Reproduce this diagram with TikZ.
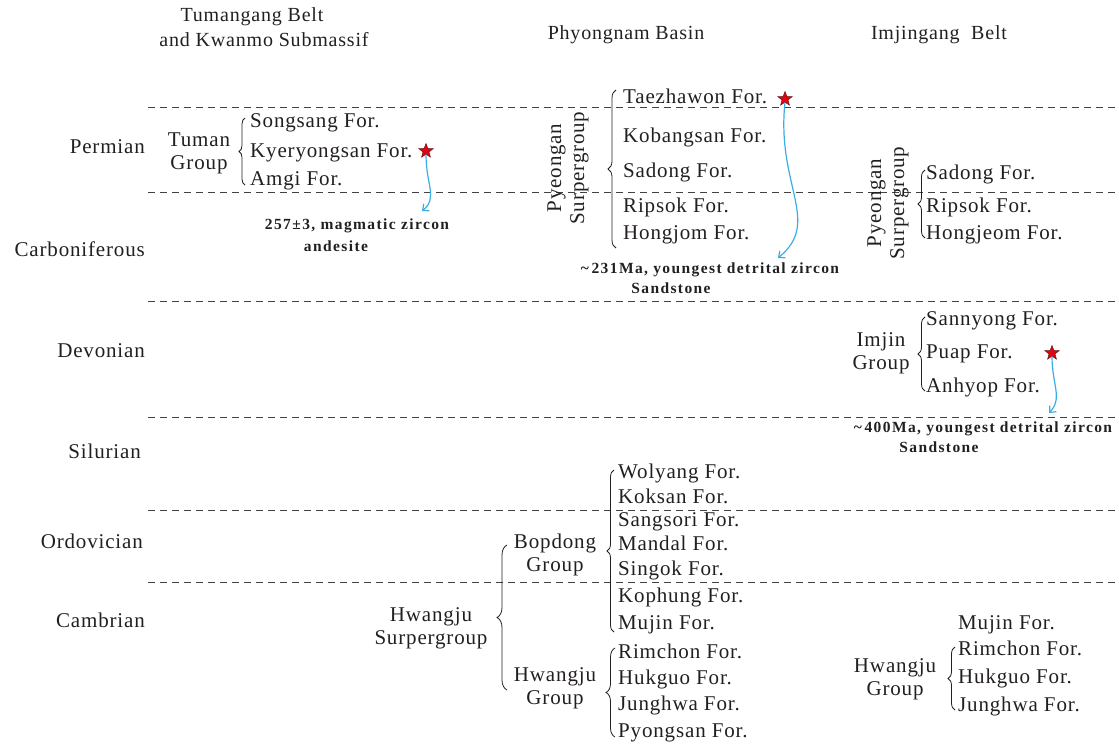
\documentclass[tikz,border=0pt]{standalone}
\usepackage{fontspec}
\setmainfont{Liberation Serif}[LetterSpace=4]
\usetikzlibrary{shapes.geometric,arrows.meta,decorations.pathreplacing}
\definecolor{ink}{HTML}{231F20}
\definecolor{zblue}{HTML}{3AAEE3}
\definecolor{starred}{HTML}{E50012}

\begin{document}
\begin{tikzpicture}[x=1pt,y=-1pt,
	every node/.style={inner sep=0,text=ink},
	hdr/.style={font=\fontsize{20}{23}\selectfont},
	era/.style={anchor=east,text height=14pt,text depth=4pt,font=\fontsize{21}{23}\selectfont},
	fm/.style={anchor=west,text height=14pt,text depth=4pt,font=\fontsize{21}{23}\selectfont},
	grp/.style={align=center,font=\fontsize{21}{23}\selectfont},
	note/.style={font=\fontsize{15.5}{19}\selectfont\bfseries\addfontfeature{LetterSpace=9}},
	sep/.style={draw=ink!85,line width=0.8pt,dash pattern=on 7pt off 5pt},
	brc/.style={draw=ink,line width=0.8pt,decorate,decoration={brace,amplitude=#1}},
	smp/.style={star,star points=5,star point ratio=2.4,minimum size=15pt,fill=starred,draw=ink!70!red,line width=0.5pt},
	age/.style={draw=zblue,line width=1.2pt,-{Straight Barb[length=5pt,width=9pt]}}]
\useasboundingbox (0,0) rectangle (1119,744);
\node[hdr] (h1a) at (252,17) {Tumangang Belt};
\node[hdr] (h1b) at (264,40) {and Kwanmo Submassif};
\node[hdr] (h2) at (626,35) {Phyongnam Basin};
\node[hdr] (h3) at (939,35) {Imjingang\ \ Belt};
\draw[sep] (148,107) -- (1119,107);
\draw[sep] (148,192) -- (1119,192);
\draw[sep] (148,301) -- (1119,301);
\draw[sep] (148,417) -- (1119,417);
\draw[sep] (148,510) -- (1119,510);
\draw[sep] (148,582) -- (1119,582);
\node[era] (perm) at (145,148) {Permian};
\node[era] (carb) at (145,251) {Carboniferous};
\node[era] (devo) at (145,352) {Devonian};
\node[era] (silu) at (141,453) {Silurian};
\node[era] (ordo) at (143,543) {Ordovician};
\node[era] (camb) at (145,622) {Cambrian};

\node[grp] (tuman) at (199,153) {Tuman\\Group};
\coordinate (tuB) at (245,185);
\coordinate (tuT) at (245,118);
\draw[brc=6pt] (tuB) -- (tuT);
\node[fm] (songsang) at (250,122) {Songsang For.};
\node[fm] (kyery) at (250,152) {Kyeryongsan For.};
\node[fm] (amgi) at (250,180) {Amgi For.};
\node[smp] (s1) at (426,151) {};
\coordinate (a1) at (422,211);
\draw[age] (s1.south) .. controls (426,185) and (438,198) .. (a1);
\node[note] (n1a) at (357,226) {257±3, magmatic zircon};
\node[note] (n1b) at (336,246) {andesite};

\node[grp,rotate=90] (pyeong1) at (568,168) {Pyeongan\\Surpergroup};
\coordinate (pyB) at (616,248);
\coordinate (pyT) at (616,90);
\draw[brc=8pt] (pyB) -- (pyT);
\node[fm] (taezh) at (623,98) {Taezhawon For.};
\node[fm] (kobang) at (623,137) {Kobangsan For.};
\node[fm] (sadong1) at (623,172) {Sadong For.};
\node[fm] (ripsok1) at (623,207) {Ripsok For.};
\node[fm] (hongjom) at (623,234) {Hongjom For.};
\node[smp] (s2) at (785,99) {};
\coordinate (a2) at (778,258);
\draw[age] (s2.south) .. controls (776,185) and (822,222) .. (a2);
\node[note] (n2a) at (710,270) {\textasciitilde\,231Ma, youngest detrital zircon};
\node[note] (n2b) at (671,288) {Sandstone};

\node[grp,rotate=90] (pyeong2) at (888,203) {Pyeongan\\Surpergroup};
\coordinate (pzB) at (925,238);
\coordinate (pzT) at (925,170);
\draw[brc=7pt] (pzB) -- (pzT);
\node[fm] (sadong2) at (926,174) {Sadong For.};
\node[fm] (ripsok2) at (926,207) {Ripsok For.};
\node[fm] (hongjeom) at (926,234) {Hongjeom For.};

\node[grp] (imjin) at (881,353) {Imjin\\Group};
\coordinate (imB) at (925,391);
\coordinate (imT) at (925,317);
\draw[brc=7pt] (imB) -- (imT);
\node[fm] (sannyong) at (926,320) {Sannyong For.};
\node[fm] (puap) at (926,353) {Puap For.};
\node[fm] (anhyop) at (926,387) {Anhyop For.};
\node[smp] (s3) at (1052,353) {};
\coordinate (a3) at (1049,413);
\draw[age] (s3.south) .. controls (1052,385) and (1063,398) .. (a3);
\node[note] (n3a) at (983,429) {\textasciitilde\,400Ma, youngest detrital zircon};
\node[note] (n3b) at (939,447) {Sandstone};

\node[grp] (hwsg) at (431,628) {Hwangju\\Surpergroup};
\coordinate (hsB) at (507,690);
\coordinate (hsT) at (507,545);
\draw[brc=10pt] (hsB) -- (hsT);
\node[grp] (bopdong) at (555,555) {Bopdong\\Group};
\coordinate (bpB) at (614,632);
\coordinate (bpT) at (614,470);
\draw[brc=7pt] (bpB) -- (bpT);
\node[fm] (wolyang) at (618,473) {Wolyang For.};
\node[fm] (koksan) at (618,498) {Koksan For.};
\node[fm] (sangsori) at (618,521) {Sangsori For.};
\node[fm] (mandal) at (618,545) {Mandal For.};
\node[fm] (singok) at (618,570) {Singok For.};
\node[fm] (kophung) at (618,597) {Kophung For.};
\node[fm] (mujin1) at (618,624) {Mujin For.};
\node[grp] (hwg1) at (555,688) {Hwangju\\Group};
\coordinate (hgB) at (615,737);
\coordinate (hgT) at (615,648);
\draw[brc=9pt] (hgB) -- (hgT);
\node[fm] (rimchon1) at (618,653) {Rimchon For.};
\node[fm] (hukguo1) at (618,679) {Hukguo For.};
\node[fm] (junghwa1) at (618,705) {Junghwa For.};
\node[fm] (pyongsan) at (618,732) {Pyongsan For.};

\node[grp] (hwg2) at (895,679) {Hwangju\\Group};
\coordinate (hjB) at (955,710);
\coordinate (hjT) at (955,647);
\draw[brc=7pt] (hjB) -- (hjT);
\node[fm] (mujin2) at (958,624) {Mujin For.};
\node[fm] (rimchon2) at (958,650) {Rimchon For.};
\node[fm] (hukguo2) at (958,678) {Hukguo For.};
\node[fm] (junghwa2) at (958,706) {Junghwa For.};
\end{tikzpicture}
\end{document}
